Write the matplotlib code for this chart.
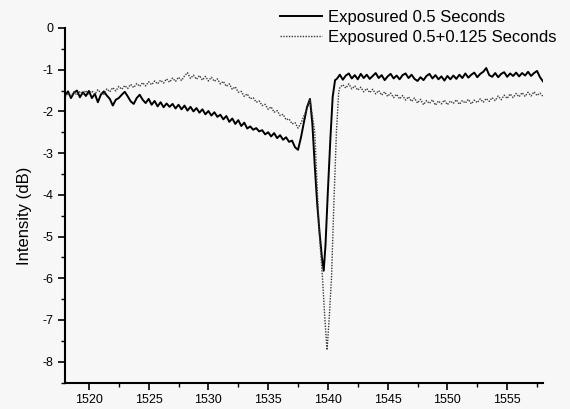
import numpy as np
import matplotlib
matplotlib.use("Agg")
import matplotlib.pyplot as plt
from matplotlib.ticker import MultipleLocator

plt.rcParams['font.family'] = ['Liberation Sans', 'DejaVu Sans']
plt.rcParams['axes.unicode_minus'] = False

# wavelength sampling (nm)
wl_left = np.arange(1518.0, 1538.01, 0.25)
wl_right_a = np.arange(1540.75, 1558.01, 0.25)
wl_right_b = np.arange(1541.25, 1558.01, 0.25)

# 0.5 s exposure (dB)
exp1_left = [-1.62, -1.52, -1.68, -1.55, -1.50, -1.66, -1.54, -1.63, -1.51, -1.68,
             -1.58, -1.78, -1.60, -1.52, -1.62, -1.70, -1.86, -1.72, -1.68, -1.60,
             -1.53, -1.64, -1.76, -1.82, -1.68, -1.60, -1.72, -1.80, -1.70, -1.84,
             -1.75, -1.88, -1.78, -1.90, -1.81, -1.89, -1.82, -1.93, -1.84, -1.95,
             -1.86, -1.98, -1.89, -2.00, -1.92, -2.03, -1.95, -2.07, -1.99, -2.10,
             -2.02, -2.13, -2.08, -2.19, -2.11, -2.25, -2.17, -2.30, -2.21, -2.35,
             -2.27, -2.41, -2.36, -2.44, -2.40, -2.48, -2.45, -2.55, -2.50, -2.60,
             -2.52, -2.64, -2.57, -2.68, -2.62, -2.73, -2.70, -2.86, -2.92, -2.62,
             -2.25]
exp1_dip_wl = [1538.25, 1538.5, 1538.7, 1538.9, 1539.1, 1539.3, 1539.5, 1539.65,
               1539.8, 1540.0, 1540.2, 1540.4, 1540.6]
exp1_dip = [-1.90, -1.70, -2.30, -3.30, -4.20, -4.90, -5.50, -5.82,
            -5.20, -3.90, -2.70, -1.65, -1.25]
exp1_right = [-1.22, -1.12, -1.24, -1.14, -1.09, -1.21, -1.13, -1.23, -1.10, -1.20,
              -1.12, -1.22, -1.15, -1.08, -1.20, -1.13, -1.25, -1.16, -1.10, -1.21,
              -1.14, -1.23, -1.13, -1.09, -1.20, -1.12, -1.22, -1.27, -1.18, -1.25,
              -1.15, -1.10, -1.21, -1.13, -1.23, -1.16, -1.26, -1.15, -1.23, -1.14,
              -1.22, -1.12, -1.20, -1.09, -1.19, -1.12, -1.07, -1.18, -1.10, -1.05,
              -0.96, -1.13, -1.17, -1.08, -1.18, -1.10, -1.06, -1.17, -1.09, -1.15,
              -1.07, -1.16, -1.08, -1.14, -1.05, -1.15, -1.08, -1.03, -1.18, -1.28]

# 0.5 + 0.125 s exposure (dB)
exp2_left = [-1.66, -1.56, -1.63, -1.53, -1.61, -1.52, -1.59, -1.50, -1.58, -1.51,
             -1.59, -1.48, -1.56, -1.59, -1.46, -1.53, -1.43, -1.51, -1.40, -1.47,
             -1.38, -1.45, -1.35, -1.43, -1.33, -1.40, -1.31, -1.39, -1.29, -1.36,
             -1.27, -1.34, -1.25, -1.32, -1.22, -1.30, -1.20, -1.28, -1.18, -1.26,
             -1.15, -1.07, -1.21, -1.13, -1.23, -1.14, -1.25, -1.16, -1.27, -1.18,
             -1.28, -1.22, -1.34, -1.28, -1.40, -1.34, -1.47, -1.41, -1.54, -1.52,
             -1.64, -1.58, -1.70, -1.67, -1.78, -1.75, -1.86, -1.83, -1.95, -1.89,
             -2.02, -1.98, -2.10, -2.07, -2.20, -2.18, -2.30, -2.27, -2.40, -2.28,
             -2.10]
exp2_dip_wl = [1538.25, 1538.5, 1538.7, 1538.9, 1539.1, 1539.3, 1539.55, 1539.75,
               1539.93, 1540.1, 1540.3, 1540.5, 1540.72, 1540.9, 1541.0]
exp2_dip = [-1.95, -1.72, -2.10, -2.50, -3.80, -5.00, -6.00, -7.00,
            -7.72, -7.00, -6.00, -4.20, -2.45, -1.55, -1.42]
exp2_right = [-1.36, -1.44, -1.34, -1.46, -1.39, -1.49, -1.42, -1.53, -1.45, -1.55,
              -1.47, -1.58, -1.50, -1.61, -1.53, -1.64, -1.56, -1.67, -1.59, -1.70,
              -1.62, -1.73, -1.65, -1.76, -1.68, -1.80, -1.71, -1.84, -1.74, -1.81,
              -1.72, -1.85, -1.75, -1.82, -1.73, -1.84, -1.75, -1.81, -1.72, -1.83,
              -1.74, -1.80, -1.71, -1.82, -1.73, -1.79, -1.70, -1.78, -1.69, -1.76,
              -1.67, -1.74, -1.63, -1.72, -1.61, -1.69, -1.58, -1.67, -1.57, -1.65,
              -1.55, -1.64, -1.54, -1.63, -1.53, -1.62, -1.56, -1.64]

wl1 = np.concatenate([wl_left, exp1_dip_wl, wl_right_a])
y1 = np.concatenate([exp1_left, exp1_dip, exp1_right])
wl2 = np.concatenate([wl_left, exp2_dip_wl, wl_right_b])
y2 = np.concatenate([exp2_left, exp2_dip, exp2_right])

bg = '#f7f7f7'
fig = plt.figure(figsize=(5.7, 4.09), dpi=100, facecolor=bg)
ax = fig.add_axes([65 / 570, 26.5 / 409, 478 / 570, 354.5 / 409], facecolor=bg)

ax.plot(wl1, y1, color='black', lw=1.4, label='Exposured 0.5 Seconds')
ax.plot(wl2, y2, color='#3a3a3a', lw=1.0, linestyle=(0, (1, 1)),
        label='Exposured 0.5+0.125 Seconds')

ax.set_xlim(1518, 1558)
ax.set_ylim(-8.5, 0)
ax.xaxis.set_major_locator(MultipleLocator(5))
ax.xaxis.set_minor_locator(MultipleLocator(2.5))
ax.yaxis.set_major_locator(MultipleLocator(1))
ax.yaxis.set_minor_locator(MultipleLocator(0.5))
ax.tick_params(which='major', direction='out', length=5, width=1.2, labelsize=9)
ax.tick_params(which='minor', direction='out', length=3, width=1.0)
for side in ['top', 'right']:
    ax.spines[side].set_visible(False)
for side in ['left', 'bottom']:
    ax.spines[side].set_linewidth(1.5)

ax.set_ylabel('Intensity (dB)', fontsize=12)
ax.yaxis.set_label_coords(-0.068, 0.47)

fig.legend(loc='upper right', bbox_to_anchor=(557 / 570, 1 - 10 / 409), frameon=False,
           fontsize=12, handlelength=2.5, handletextpad=0.4, labelspacing=0.32,
           borderpad=0.0, borderaxespad=0.0)

fig.savefig('out.png', dpi=100, facecolor=bg)
